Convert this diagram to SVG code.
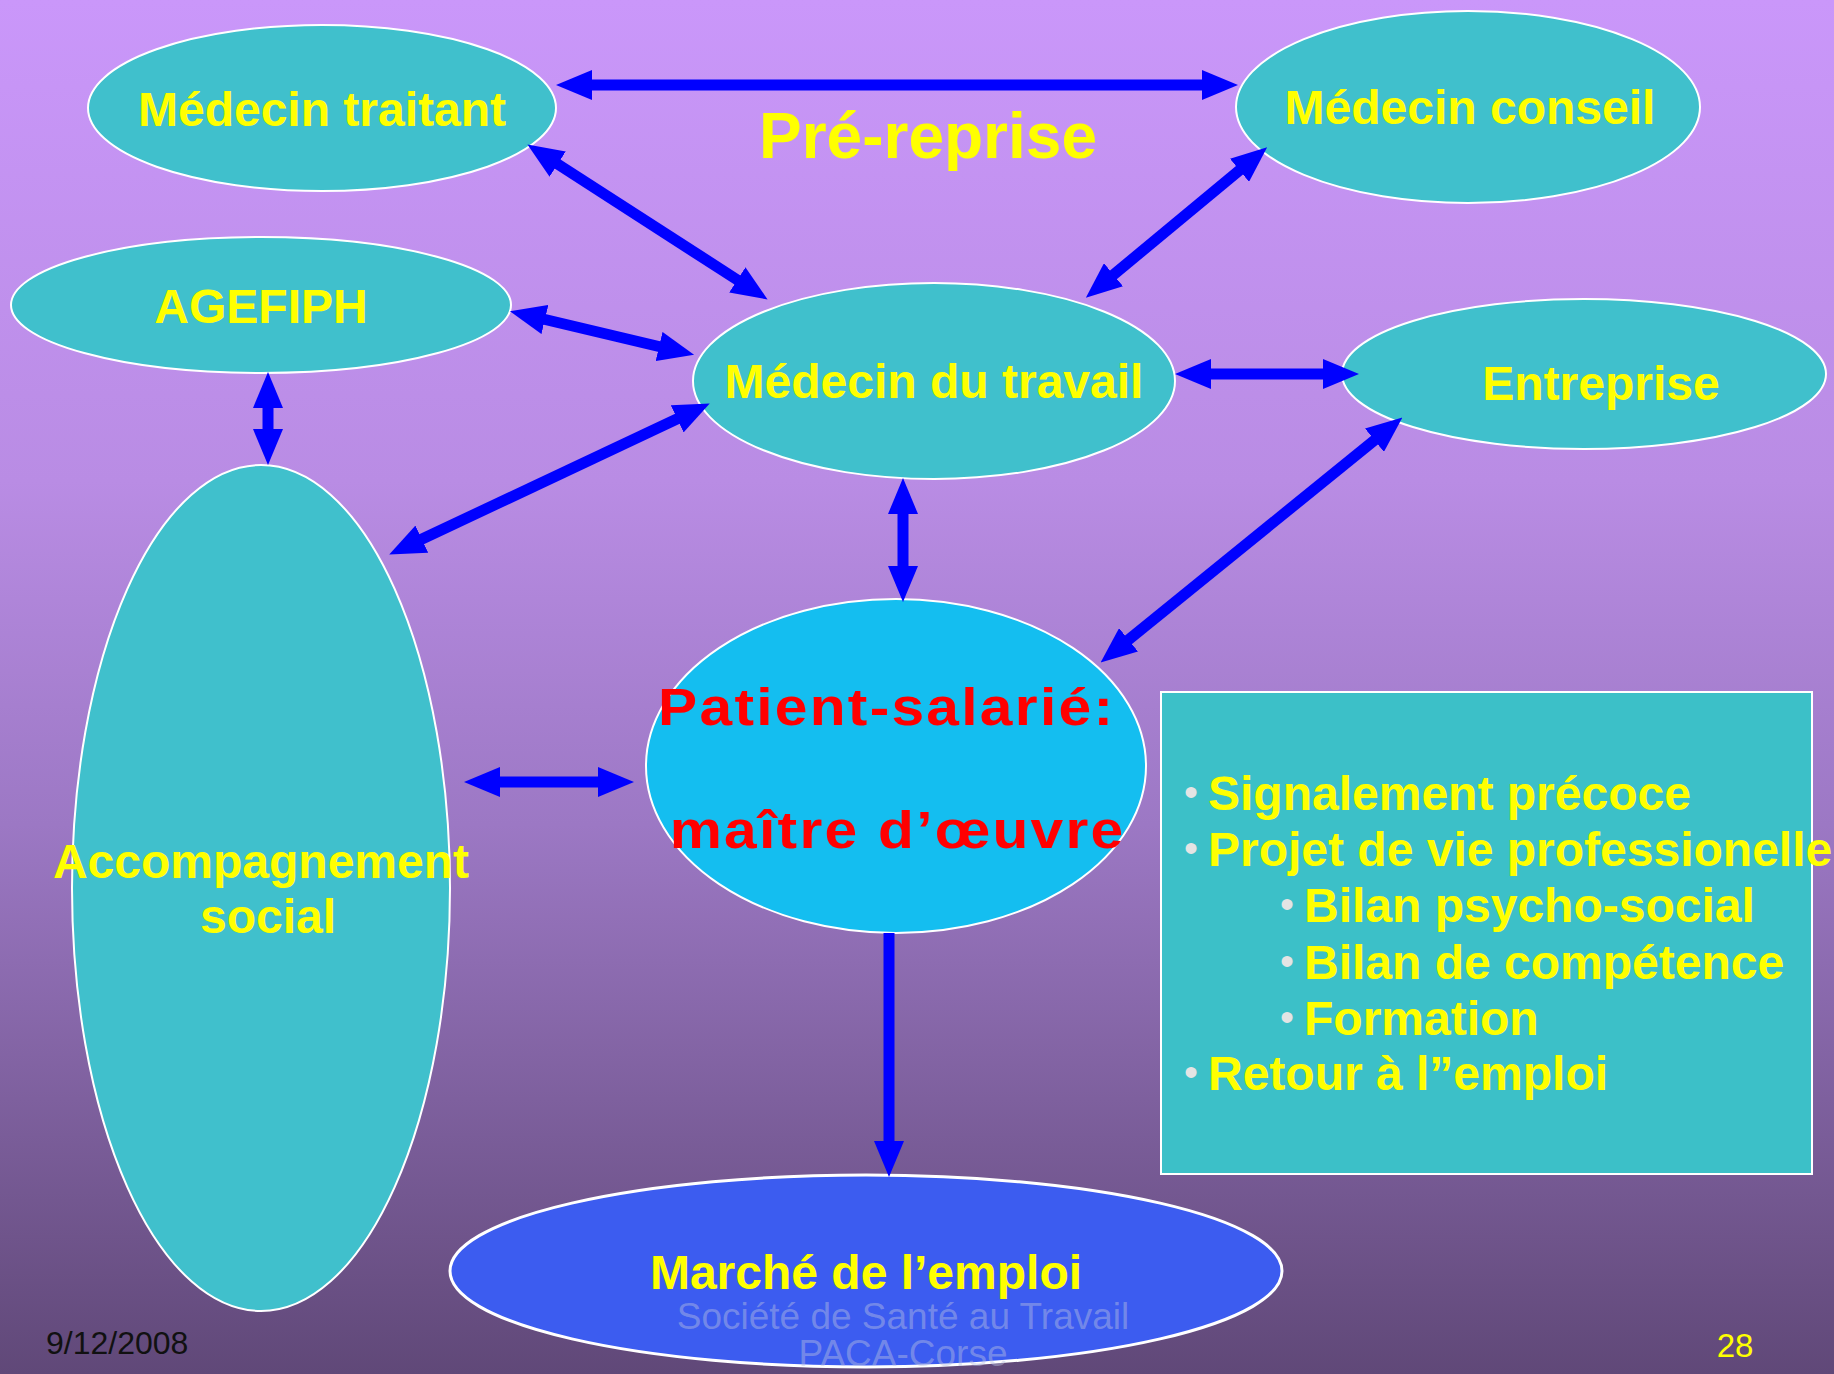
<svg xmlns="http://www.w3.org/2000/svg" width="1834" height="1374" viewBox="0 0 1834 1374">
<defs>
<linearGradient id="bg" x1="0" y1="0" x2="0" y2="1">
<stop offset="0" stop-color="#CA97FA"/>
<stop offset="0.35" stop-color="#B98CE4"/>
<stop offset="0.6" stop-color="#9C78C4"/>
<stop offset="1" stop-color="#604878"/>
</linearGradient>
<marker id="ah" markerUnits="userSpaceOnUse" markerWidth="36" markerHeight="30" refX="2" refY="15" orient="auto-start-reverse">
<path d="M0,0 L36,15 L0,30 z" fill="#0000FF"/>
</marker>
</defs>
<style>
.node{fill:#40C0CC;stroke:#FFFFFF;stroke-width:2}
.lbl{font-family:"Liberation Sans",Arial,sans-serif;font-weight:bold;font-size:48px;fill:#FFFF00;text-anchor:middle}
.bl{font-family:"Liberation Sans",Arial,sans-serif;font-weight:bold;font-size:48px;fill:#FFFF00}
.bul{font-family:"Liberation Sans",Arial,sans-serif;font-size:40px;fill:#E4E4E4}
.red{font-family:"Liberation Sans",Arial,sans-serif;font-weight:bold;font-size:51px;fill:#FF0000;text-anchor:middle;letter-spacing:2px}
.arr{stroke:#0000FF;stroke-width:11;fill:none;marker-start:url(#ah);marker-end:url(#ah)}
.foot{font-family:"Liberation Sans",Arial,sans-serif;font-size:37px;fill:#B8C0E0;fill-opacity:0.45;text-anchor:middle}
</style>
<rect x="0" y="0" width="1834" height="1374" fill="url(#bg)"/>

<g id="accompagnement">
<ellipse class="node" cx="261" cy="888" rx="189" ry="423"/>
<text class="lbl" x="261" y="878">Accompagnement</text>
<text class="lbl" x="268" y="933">social</text>
</g>
<g id="medecin-traitant">
<ellipse class="node" cx="322" cy="108" rx="234" ry="83"/>
<text class="lbl" x="322" y="126">Médecin traitant</text>
</g>
<g id="medecin-conseil">
<ellipse class="node" cx="1468" cy="107" rx="232" ry="96"/>
<text class="lbl" x="1470" y="124">Médecin conseil</text>
</g>
<g id="agefiph">
<ellipse class="node" cx="261" cy="305" rx="250" ry="68"/>
<text class="lbl" x="261" y="323">AGEFIPH</text>
</g>
<g id="medecin-travail">
<ellipse class="node" cx="934" cy="381" rx="241" ry="98"/>
<text class="lbl" x="934" y="398">Médecin du travail</text>
</g>
<g id="entreprise">
<ellipse class="node" cx="1584" cy="374" rx="242" ry="75"/>
<text class="lbl" x="1601" y="400">Entreprise</text>
</g>
<g id="patient">
<ellipse cx="896" cy="766" rx="250" ry="167" fill="#14BEF0" stroke="#FFFFFF" stroke-width="2"/>
<text class="red" transform="scale(1.15,1)" x="771" y="725">Patient-salarié:</text>
<text class="red" transform="scale(1.15,1)" x="780.5" y="848">maître d’œuvre</text>
</g>
<g id="marche">
<ellipse cx="866" cy="1271" rx="416" ry="96" fill="#3C5CF0" stroke="#FFFFFF" stroke-width="3"/>
<text class="lbl" x="866" y="1289">Marché de l’emploi</text>
</g>
<g id="liste">
<rect x="1161" y="692" width="651" height="482" fill="#3CC0C8" stroke="#FFFFFF" stroke-width="2"/>
<text class="bul" x="1184" y="806">•</text><text class="bl" x="1208" y="810">Signalement précoce</text>
<text class="bul" x="1184" y="862">•</text><text class="bl" x="1208" y="866">Projet de vie professionelle</text>
<text class="bul" x="1280" y="918">•</text><text class="bl" x="1304" y="922">Bilan psycho-social</text>
<text class="bul" x="1280" y="975">•</text><text class="bl" x="1304" y="979">Bilan de compétence</text>
<text class="bul" x="1280" y="1031">•</text><text class="bl" x="1304" y="1035">Formation</text>
<text class="bul" x="1184" y="1086">•</text><text class="bl" x="1208" y="1090">Retour à l”emploi</text>
</g>
<g id="titre">
<text class="lbl" x="928" y="158" style="font-size:64px">Pré-reprise</text>
</g>

<g id="connectors">
<line class="arr" x1="590" y1="85" x2="1204" y2="85"/>
<line class="arr" x1="556" y1="163" x2="739" y2="281"/>
<line class="arr" x1="1241" y1="169" x2="1112" y2="276"/>
<line class="arr" x1="543" y1="319" x2="661" y2="347"/>
<line class="arr" x1="268" y1="406" x2="268" y2="431" stroke-width="9"/>
<line class="arr" x1="679" y1="418" x2="420" y2="540"/>
<line class="arr" x1="1209" y1="374" x2="1325" y2="374"/>
<line class="arr" x1="903" y1="512" x2="903" y2="568"/>
<line class="arr" x1="1376" y1="439" x2="1127" y2="641"/>
<line class="arr" x1="498" y1="782" x2="600" y2="782"/>
<line x1="889" y1="933" x2="889" y2="1143" stroke="#0000FF" stroke-width="11" marker-end="url(#ah)"/>
</g>

<g id="footer">
<text x="46" y="1354" font-family="'Liberation Sans',Arial,sans-serif" font-size="32" fill="#111111">9/12/2008</text>
<text x="1735" y="1357" font-family="'Liberation Sans',Arial,sans-serif" font-size="33" fill="#FFFF00" text-anchor="middle">28</text>
<text class="foot" x="903" y="1329">Société de Santé au Travail</text>
<text class="foot" x="903" y="1366">PACA-Corse</text>
</g>
</svg>
